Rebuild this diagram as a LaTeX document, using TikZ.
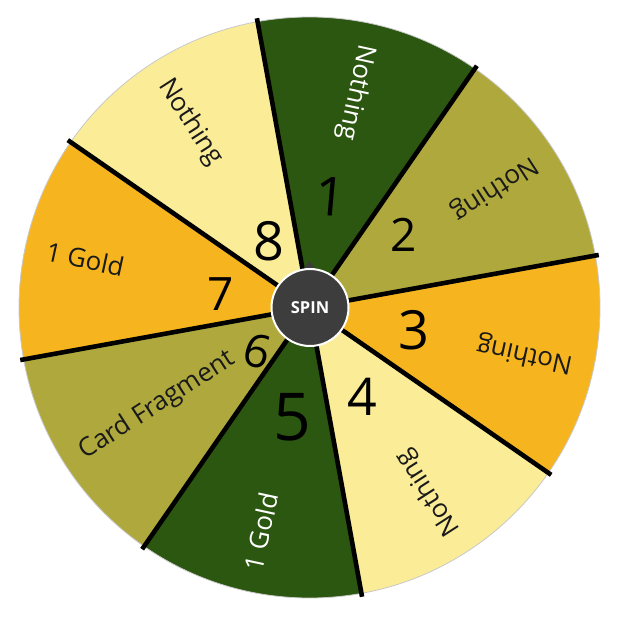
\documentclass[tikz,border=0pt]{standalone}
\usepackage{fontspec}
\setmainfont{Open Sans}
\definecolor{dgreen}{HTML}{2C5710}
\definecolor{olive}{HTML}{AFA93D}
\definecolor{gold}{HTML}{F6B51F}
\definecolor{lyellow}{HTML}{FBEC98}
\definecolor{spingray}{HTML}{3D3D3D}
\definecolor{rimgray}{HTML}{C8C8C8}
\definecolor{txtdark}{HTML}{1A1A1A}
\tikzset{
  divider/.style={line width=4.6pt, black},
  lbl/.style={anchor=west, inner sep=0pt, font=\fontsize{26}{26}\selectfont, text=txtdark},
  lblw/.style={lbl, text=white},
  digit/.style={inner sep=0pt, font=\fontsize{54}{54}\selectfont, text=black},
  spinbtn/.style={circle, fill=spingray, draw=white, line width=2pt, minimum size=77pt, inner sep=0pt,
    text=white, font=\fontsize{16.5}{16.5}\selectfont\bfseries}
}
\begin{document}
\begin{tikzpicture}[x=1pt,y=1pt]
\useasboundingbox (-309.5,-310.5) rectangle (308.5,307.5);
\def\R{290.5}
% sectors
\foreach \a/\c in {55.3/dgreen,10.3/olive,-34.7/gold,-79.7/lyellow,-124.7/dgreen,-169.7/olive,145.3/gold,100.3/lyellow}{
  \fill[\c] (0,0) -- (\a:\R) arc[start angle=\a, end angle=\a+45, radius=\R] -- cycle;
}
\draw[rimgray, line width=0.8pt] (0,0) circle[radius=\R];
% dividers
\foreach \a [count=\k] in {10.3,55.3,100.3,145.3,190.3,235.3,280.3,325.3}{
  \coordinate (in\k) at (\a:38);
  \coordinate (out\k) at (\a:294);
  \draw[divider] (in\k) -- (out\k);
}
% labels
\node[lblw, rotate=257.8] (l1) at (77.8:269) {Nothing};
\node[lbl,  rotate=212.8] (l2) at (32.8:269) {Nothing};
\node[lbl,  rotate=167.8] (l3) at (-12.2:269) {Nothing};
\node[lbl,  rotate=122.8] (l4) at (-57.2:269) {Nothing};
\node[lblw, rotate=77.8]  (l5) at (-102.2:269) {1 Gold};
\node[lbl,  rotate=32.8]  (l6) at (-147.2:271) {Card Fragment};
\node[lbl,  rotate=347.8] (l7) at (167.8:269) {1 Gold};
\node[lbl,  rotate=302.8] (l8) at (122.8:269) {Nothing};
% handwritten digits
\node[digit, rotate=-5] (d1) at (21,111) {1};
\node[digit, font=\fontsize{46}{46}\selectfont] (d2) at (94.5,72.5) {2};
\node[digit] (d3) at (104.5,-22.5) {3};
\node[digit, font=\fontsize{52}{52}\selectfont] (d4) at (52.5,-89.5) {4};
\node[digit, font=\fontsize{66}{66}\selectfont] (d5) at (-17.5,-109.5) {5};
\node[digit, rotate=-15, font=\fontsize{46}{46}\selectfont] (d6) at (-52.5,-43.5) {6};
\node[digit, font=\fontsize{46}{46}\selectfont] (d7) at (-88.5,13.5) {7};
\node[digit] (d8) at (-40.5,66.5) {8};
% spin button
\fill[spingray] (-8,36) -- (0,46.5) -- (8,36) -- cycle;
\node[spinbtn] (spin) at (0.5,0) {SPIN};
\end{tikzpicture}
\end{document}
